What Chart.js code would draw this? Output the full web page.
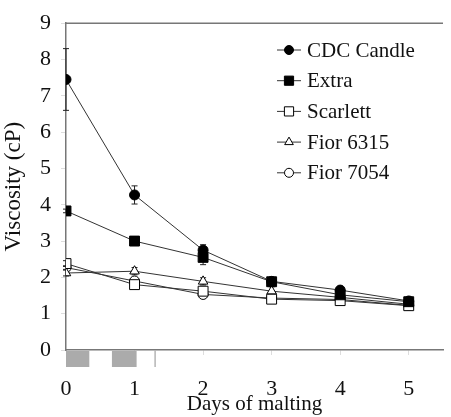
<!DOCTYPE html>
<html>
<head>
<meta charset="utf-8">
<script src="https://cdn.jsdelivr.net/npm/chart.js@4/dist/chart.umd.min.js"></script>
<style>
  html, body { margin: 0; padding: 0; background: #fff; }
  #wrap { width: 451px; height: 417px; }
</style>
</head>
<body>
<div id="wrap"><canvas id="viscChart" width="451" height="417"></canvas></div>
<script>
// days of malting
const days = [0, 1, 2, 3, 4, 5];

// viscosity (cP) per variety
const cdcCandle = [7.45, 4.27, 2.75, 1.89, 1.65, 1.35];
const extra     = [3.83, 3.0, 2.55, 1.88, 1.52, 1.33];
const scarlett  = [2.38, 1.8, 1.62, 1.4, 1.36, 1.22];
const fior6315  = [2.12, 2.17, 1.89, 1.62, 1.45, 1.26];
const fior7054  = [2.27, 1.9, 1.53, 1.43, 1.39, 1.23];

// error bars (+/-)
const cdcCandleErr = [0.85, 0.25, 0.15, 0.05, 0.06, 0.04];
const extraErr     = [0.05, 0.05, 0.2, 0.04, 0.05, 0.05];
const scarlettErr  = [0.08, 0.08, 0.1, 0.08, 0.05, 0.05];
const fior6315Err  = [0.08, 0.1, 0.1, 0.12, 0.06, 0.05];
const fior7054Err  = [0.05, 0.08, 0.06, 0.05, 0.05, 0.05];

const seriesNames = ['CDC Candle', 'Extra', 'Scarlett', 'Fior 6315', 'Fior 7054'];
const yTicks = [0, 1, 2, 3, 4, 5, 6, 7, 8, 9];

// grey blocks under the x axis (in days) and the small divider after them
const steepBlocks = [[0, 0.34], [0.67, 1.03]];
const steepDivider = 1.3;

const FONT = 'Liberation Serif';

function pts(vals) {
    return days.map((d, i) => ({ x: d, y: vals[i] }));
}

function makeSet(label, vals, err, style, filled) {
    // rect side = r * sqrt(2), so squares need a bigger radius
    let r = 5;
    if (style === 'rect') r = 7;
    if (style === 'triangle') r = 5.5;
    return {
        label: label,
        data: pts(vals),
        errors: err,
        borderColor: '#333',
        borderWidth: 1,
        pointStyle: style,
        pointRadius: r,
        pointBackgroundColor: filled ? '#000' : '#fff',
        pointBorderColor: '#000',
        pointBorderWidth: 1,
        tension: 0,
        fill: false
    };
}

const datasets = [
    makeSet(seriesNames[0], cdcCandle, cdcCandleErr, 'circle', true),
    makeSet(seriesNames[1], extra, extraErr, 'rect', true),
    makeSet(seriesNames[2], scarlett, scarlettErr, 'rect', false),
    makeSet(seriesNames[3], fior6315, fior6315Err, 'triangle', false),
    makeSet(seriesNames[4], fior7054, fior7054Err, 'circle', false)
];

// error bars, drawn before the markers
const errorBars = {
    id: 'errorBars',
    beforeDatasetsDraw(chart) {
        const ctx = chart.ctx;
        const xs = chart.scales.x, ys = chart.scales.y;
        ctx.save();
        ctx.strokeStyle = '#222';
        ctx.lineWidth = 1;
        chart.data.datasets.forEach(ds => {
            ds.data.forEach((p, i) => {
                const e = ds.errors[i];
                const px = xs.getPixelForValue(p.x);
                const top = ys.getPixelForValue(p.y + e);
                const bot = ys.getPixelForValue(p.y - e);
                ctx.beginPath();
                ctx.moveTo(px, top); ctx.lineTo(px, bot);
                ctx.moveTo(px - 3, top); ctx.lineTo(px + 3, top);
                ctx.moveTo(px - 3, bot); ctx.lineTo(px + 3, bot);
                ctx.stroke();
            });
        });
        ctx.restore();
    }
};

// top frame line, grey blocks under the axis, and the legend
const extras = {
    id: 'extras',
    afterDraw(chart) {
        const ctx = chart.ctx;
        const area = chart.chartArea;
        const xs = chart.scales.x;
        ctx.save();

        ctx.strokeStyle = '#777';
        ctx.lineWidth = 1.5;
        ctx.beginPath();
        ctx.moveTo(area.left, area.top);
        ctx.lineTo(area.right, area.top);
        ctx.stroke();

        ctx.fillStyle = '#ababab';
        steepBlocks.forEach(b => {
            const x0 = xs.getPixelForValue(b[0]);
            const x1 = xs.getPixelForValue(b[1]);
            ctx.fillRect(x0, area.bottom + 1, x1 - x0, 16);
        });
        const dx = xs.getPixelForValue(steepDivider);
        ctx.strokeStyle = '#b5b5b5';
        ctx.lineWidth = 1.5;
        ctx.beginPath();
        ctx.moveTo(dx, area.bottom);
        ctx.lineTo(dx, area.bottom + 17);
        ctx.stroke();

        // legend
        const lx = 277, ly = 50, gap = 30.7;
        ctx.font = '21px "' + FONT + '"';
        ctx.textBaseline = 'middle';
        ctx.textAlign = 'left';
        chart.data.datasets.forEach((ds, i) => {
            const y = ly + i * gap;
            ctx.strokeStyle = '#333';
            ctx.lineWidth = 1;
            ctx.beginPath();
            ctx.moveTo(lx, y);
            ctx.lineTo(lx + 24, y);
            ctx.stroke();
            ctx.fillStyle = ds.pointBackgroundColor;
            ctx.strokeStyle = '#000';
            Chart.helpers.drawPoint(ctx, {
                pointStyle: ds.pointStyle,
                radius: ds.pointRadius - 0.5,
                rotation: 0,
                borderWidth: 1
            }, lx + 12, y);
            ctx.fillStyle = '#111';
            ctx.fillText(ds.label, lx + 30, y + 1);
        });
        ctx.restore();
    }
};

new Chart(document.getElementById('viscChart'), {
    type: 'line',
    data: { datasets: datasets },
    options: {
        responsive: false,
        animation: false,
        layout: { padding: { top: 17, right: 0, left: 0, bottom: 0 } },
        plugins: {
            legend: { display: false },
            tooltip: { enabled: false }
        },
        scales: {
            x: {
                type: 'linear',
                min: 0,
                max: 5.5,
                afterBuildTicks: s => { s.ticks = days.map(d => ({ value: d })); },
                afterFit: s => { s.height = 67; },
                ticks: {
                    stepSize: 1,
                    includeBounds: false,
                    padding: 21,
                    color: '#111',
                    font: { family: FONT, size: 22 }
                },
                grid: {
                    drawOnChartArea: false,
                    tickLength: 5,
                    color: '#ddd'
                },
                border: { color: '#777', width: 1.5 },
                title: {
                    display: true,
                    text: 'Days of malting',
                    color: '#111',
                    font: { family: FONT, size: 21 },
                    padding: { top: -8, bottom: 0 }
                }
            },
            y: {
                min: 0,
                max: 9,
                afterBuildTicks: s => { s.ticks = yTicks.map(v => ({ value: v })); },
                afterFit: s => { s.width = 66; },
                ticks: {
                    stepSize: 1,
                    padding: 10,
                    color: '#111',
                    font: { family: FONT, size: 22 }
                },
                grid: {
                    drawOnChartArea: false,
                    tickLength: 5,
                    color: '#ddd'
                },
                border: { color: '#777', width: 1.5 },
                title: {
                    display: true,
                    text: 'Viscosity (cP)',
                    color: '#111',
                    font: { family: FONT, size: 23 },
                    padding: { top: 0, bottom: 1 }
                }
            }
        }
    },
    plugins: [errorBars, extras]
});
</script>
</body>
</html>
